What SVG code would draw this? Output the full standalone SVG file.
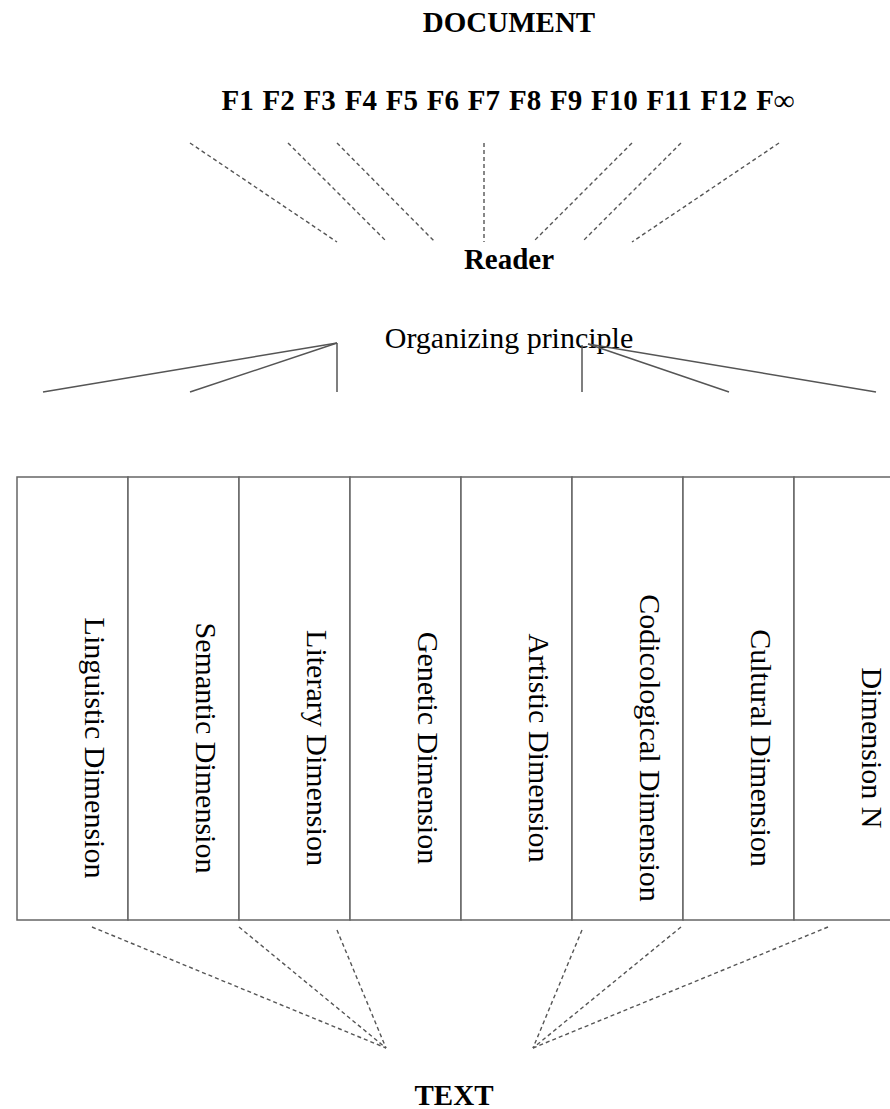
<svg xmlns="http://www.w3.org/2000/svg" width="890" height="1109" viewBox="0 0 890 1109">
<style>
.b{font-family:"Liberation Serif","Times New Roman",serif;font-weight:bold;font-size:29px;fill:#000;text-anchor:middle}
.r{font-family:"Liberation Serif","Times New Roman",serif;font-size:30px;fill:#000;text-anchor:middle}
.d{stroke:#555;stroke-width:1.4;stroke-dasharray:4,3;fill:none}
.s{stroke:#555;stroke-width:1.5;fill:none}
.box{stroke:#666;stroke-width:1.5;fill:#fff}
</style>
<rect width="890" height="1109" fill="#fff"/>
<g id="document"><text class="b" x="509" y="32">DOCUMENT</text></g>
<g id="features"><text class="b" x="508" y="110" style="word-spacing:1.6px">F1 F2 F3 F4 F5 F6 F7 F8 F9 F10 F11 F12 F∞</text></g>
<g id="reader"><text class="b" x="509" y="269">Reader</text></g>
<g id="organizing"><text class="r" x="509" y="348">Organizing principle</text></g>
<g id="connectors">
<line class="d" x1="190" y1="143" x2="337" y2="242"/>
<line class="d" x1="288" y1="143" x2="387" y2="242"/>
<line class="d" x1="337" y1="143" x2="435" y2="242"/>
<line class="d" x1="484" y1="143" x2="484" y2="242"/>
<line class="d" x1="632" y1="143" x2="533" y2="242"/>
<line class="d" x1="681" y1="143" x2="582" y2="242"/>
<line class="d" x1="779" y1="143" x2="632" y2="242"/>
<line class="s" x1="337" y1="343" x2="43" y2="392"/>
<line class="s" x1="337" y1="343" x2="190" y2="392"/>
<line class="s" x1="337" y1="343" x2="337" y2="392"/>
<line class="s" x1="582" y1="345" x2="582" y2="392"/>
<line class="s" x1="588" y1="344" x2="729" y2="392"/>
<line class="s" x1="588" y1="344" x2="876" y2="392"/>
<line class="d" x1="92" y1="927" x2="386" y2="1048"/>
<line class="d" x1="239" y1="927" x2="386" y2="1048"/>
<line class="d" x1="337" y1="930" x2="386" y2="1048"/>
<line class="d" x1="582" y1="930" x2="533" y2="1048"/>
<line class="d" x1="681" y1="927" x2="533" y2="1048"/>
<line class="d" x1="828" y1="927" x2="533" y2="1048"/>
</g>
<g id="dim1"><rect class="box" x="17" y="477" width="111" height="443"/><text class="r" transform="rotate(90 85 748)" x="85" y="748">Linguistic Dimension</text></g>
<g id="dim2"><rect class="box" x="128" y="477" width="111" height="443"/><text class="r" transform="rotate(90 196 748)" x="196" y="748">Semantic Dimension</text></g>
<g id="dim3"><rect class="box" x="239" y="477" width="111" height="443"/><text class="r" transform="rotate(90 307 748)" x="307" y="748">Literary Dimension</text></g>
<g id="dim4"><rect class="box" x="350" y="477" width="111" height="443"/><text class="r" transform="rotate(90 418 748)" x="418" y="748">Genetic Dimension</text></g>
<g id="dim5"><rect class="box" x="461" y="477" width="111" height="443"/><text class="r" transform="rotate(90 529 748)" x="529" y="748">Artistic Dimension</text></g>
<g id="dim6"><rect class="box" x="572" y="477" width="111" height="443"/><text class="r" transform="rotate(90 640 748)" x="640" y="748">Codicological Dimension</text></g>
<g id="dim7"><rect class="box" x="683" y="477" width="111" height="443"/><text class="r" transform="rotate(90 751 748)" x="751" y="748">Cultural Dimension</text></g>
<g id="dim8"><rect class="box" x="794" y="477" width="111" height="443"/><text class="r" transform="rotate(90 862 748)" x="862" y="748">Dimension N</text></g>
<g id="text"><text class="b" x="454" y="1105">TEXT</text></g>
</svg>
